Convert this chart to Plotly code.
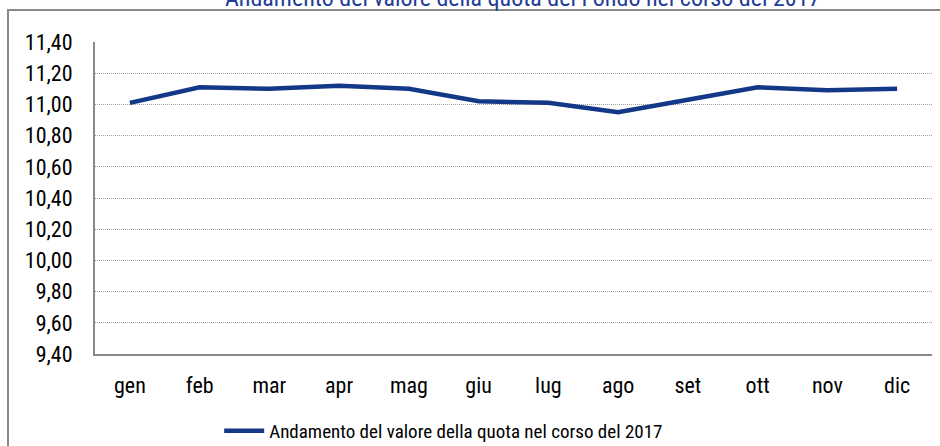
import plotly.graph_objects as go

months = ["gen", "feb", "mar", "apr", "mag", "giu", "lug", "ago", "set", "ott", "nov", "dic"]
values = [11.01, 11.11, 11.10, 11.12, 11.10, 11.02, 11.01, 10.95, 11.03, 11.11, 11.09, 11.10]
series_name = "Andamento del valore della quota nel corso del 2017"
title_text = "Andamento del valore della quota del Fondo nel corso del 2017"
ytick_vals = [9.4, 9.6, 9.8, 10.0, 10.2, 10.4, 10.6, 10.8, 11.0, 11.2, 11.4]

FONT = "Roboto Condensed, Liberation Sans Narrow, Arial Narrow, sans-serif"
W, H = 940, 446
L, R, T, B = 95, 8, 42, 92
PH = H - T - B
PW = W - L - R
FS = 19
TICK_FS = 22

fig = go.Figure()
fig.add_trace(go.Scatter(
    x=months, y=values, mode="lines", name=series_name,
    line=dict(color="#143888", width=4.5),
))

fig.update_layout(
    width=W, height=H,
    margin=dict(l=L, r=R, t=T, b=B, pad=0),
    paper_bgcolor="white", plot_bgcolor="white",
    separators=",.",
    font=dict(family=FONT, size=FS, color="#000000"),
    showlegend=True,
    legend=dict(orientation="h", x=0.472, xanchor="center", xref="container",
                y=1 - 431 / H, yanchor="middle", yref="container",
                font=dict(family=FONT, size=FS, color="#000000"),
                bgcolor="rgba(0,0,0,0)", itemwidth=40),
    xaxis=dict(
        type="category", showgrid=False, showline=True, linecolor="#898989", linewidth=2,
        ticks="", ticklabelstandoff=11, range=[-0.5, 11.5],
        tickfont=dict(family=FONT, size=TICK_FS, color="#000000"),
    ),
    yaxis=dict(
        range=[9.4, 11.4], tickvals=ytick_vals, tickformat=".2f",
        showgrid=True, gridcolor="#A0A0A0", griddash="1px,1px", gridwidth=1,
        showline=True, linecolor="#898989", linewidth=2, zeroline=False,
        ticks="", ticklabelstandoff=16,
        tickfont=dict(family=FONT, size=TICK_FS, color="#000000"),
    ),
    annotations=[dict(text=title_text, xref="paper", yref="paper",
                      x=(522 - L) / PW, xanchor="center",
                      y=1 + (T + 2) / PH, yanchor="middle",
                      showarrow=False,
                      font=dict(family=FONT, size=24, color="#1F3C99"))],
    shapes=[dict(type="rect", xref="paper", yref="paper",
                 x0=-(L - 8) / PW, x1=(PW + R + 5) / PW,
                 y0=-(B + 10) / PH, y1=1 + (T - 10) / PH,
                 line=dict(color="#898989", width=2), layer="below")],
)

fig.write_html("out.html", config={"displayModeBar": False})
with open("out.html", "r", encoding="utf-8") as f:
    html = f.read()
html = html.replace("<body>", '<body style="margin:0;padding:0;overflow:hidden">', 1)
html = html.replace("<head>", '<head><style>html,body{margin:0;padding:0;}</style>', 1)
with open("out.html", "w", encoding="utf-8") as f:
    f.write(html)
